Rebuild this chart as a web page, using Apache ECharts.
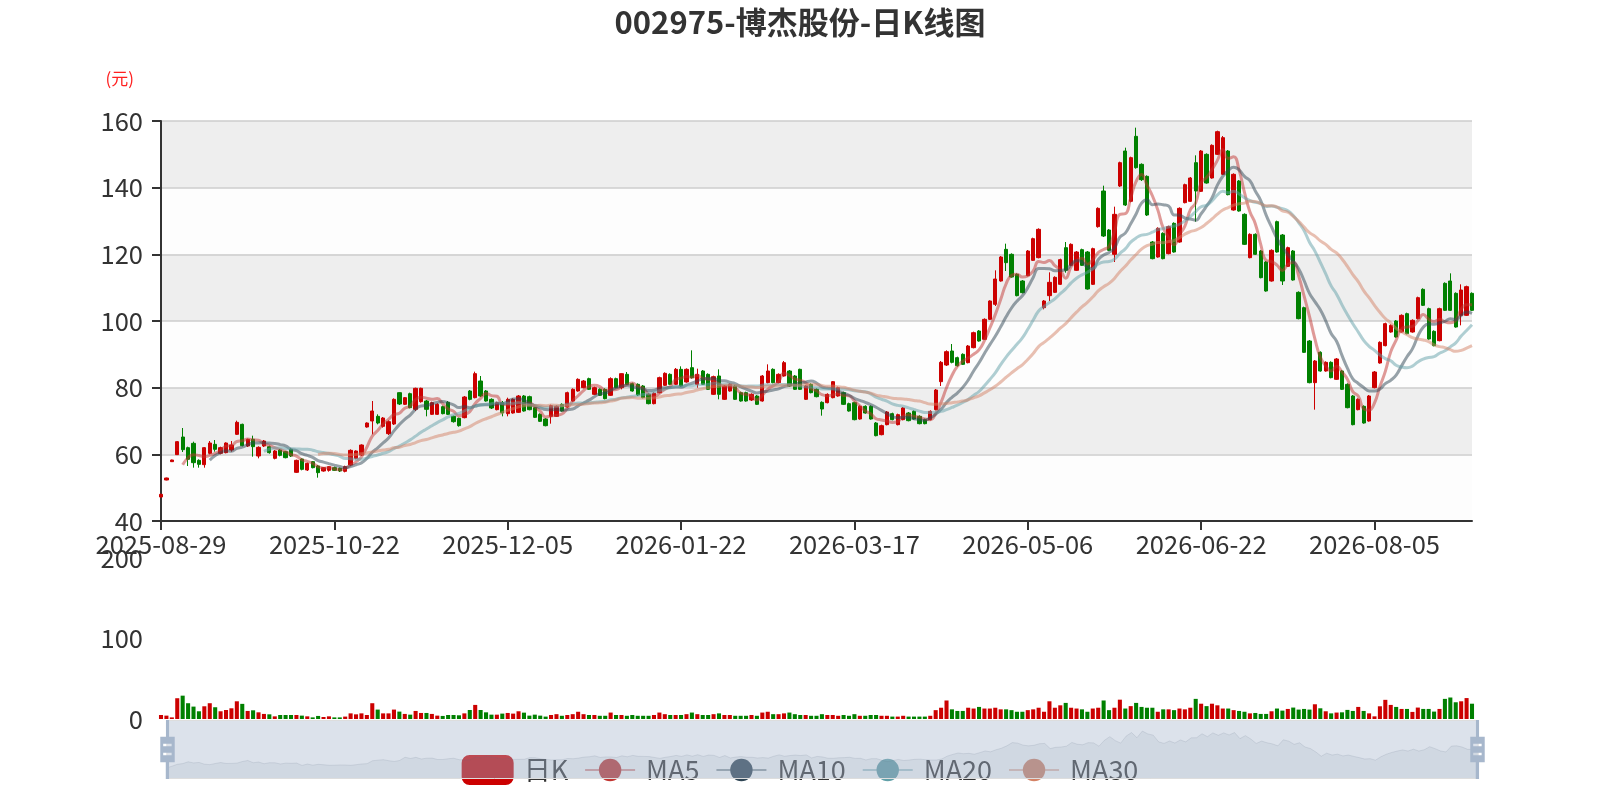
<!DOCTYPE html>
<html>
<head>
<meta charset="utf-8">
<title>002975-博杰股份-日K线图</title>
<script src="https://cdn.jsdelivr.net/npm/echarts@6/dist/echarts.min.js"></script>
<style>
  html, body { margin: 0; padding: 0; background: #fff; }
  #main { width: 1600px; height: 800px; }
</style>
</head>
<body>
<div id="main"></div>
<script>
// 交易日
var dates = [
  '2025-08-29',
  '2025-09-01','2025-09-02','2025-09-03','2025-09-04','2025-09-05','2025-09-08','2025-09-09','2025-09-10','2025-09-11','2025-09-12',
  '2025-09-15','2025-09-16','2025-09-17','2025-09-18','2025-09-19','2025-09-22','2025-09-23','2025-09-24','2025-09-25','2025-09-26',
  '2025-09-29','2025-09-30',
  '2025-10-09','2025-10-10','2025-10-13','2025-10-14','2025-10-15','2025-10-16','2025-10-17','2025-10-20','2025-10-21','2025-10-22',
  '2025-10-23','2025-10-24','2025-10-27','2025-10-28','2025-10-29','2025-10-30','2025-10-31',
  '2025-11-03','2025-11-04','2025-11-05','2025-11-06','2025-11-07','2025-11-10','2025-11-11','2025-11-12','2025-11-13','2025-11-14',
  '2025-11-17','2025-11-18','2025-11-19','2025-11-20','2025-11-21','2025-11-24','2025-11-25','2025-11-26','2025-11-27','2025-11-28',
  '2025-12-01','2025-12-02','2025-12-03','2025-12-04','2025-12-05','2025-12-08','2025-12-09','2025-12-10','2025-12-11','2025-12-12',
  '2025-12-15','2025-12-16','2025-12-17','2025-12-18','2025-12-19','2025-12-22','2025-12-23','2025-12-24','2025-12-25','2025-12-26',
  '2025-12-29','2025-12-30','2025-12-31',
  '2026-01-05','2026-01-06','2026-01-07','2026-01-08','2026-01-09','2026-01-12','2026-01-13','2026-01-14','2026-01-15','2026-01-16',
  '2026-01-19','2026-01-20','2026-01-21','2026-01-22','2026-01-23','2026-01-26','2026-01-27','2026-01-28','2026-01-29','2026-01-30',
  '2026-02-02','2026-02-03','2026-02-04','2026-02-05','2026-02-06','2026-02-09','2026-02-10','2026-02-11','2026-02-12','2026-02-13',
  '2026-02-24','2026-02-25','2026-02-26','2026-02-27',
  '2026-03-02','2026-03-03','2026-03-04','2026-03-05','2026-03-06','2026-03-09','2026-03-10','2026-03-11','2026-03-12','2026-03-13',
  '2026-03-16','2026-03-17','2026-03-18','2026-03-19','2026-03-20','2026-03-23','2026-03-24','2026-03-25','2026-03-26','2026-03-27',
  '2026-03-30','2026-03-31',
  '2026-04-01','2026-04-02','2026-04-03','2026-04-07','2026-04-08','2026-04-09','2026-04-10','2026-04-13','2026-04-14','2026-04-15',
  '2026-04-16','2026-04-17','2026-04-20','2026-04-21','2026-04-22','2026-04-23','2026-04-24','2026-04-27','2026-04-28','2026-04-29',
  '2026-04-30',
  '2026-05-06','2026-05-07','2026-05-08','2026-05-11','2026-05-12','2026-05-13','2026-05-14','2026-05-15','2026-05-18','2026-05-19',
  '2026-05-20','2026-05-21','2026-05-22','2026-05-25','2026-05-26','2026-05-27','2026-05-28','2026-05-29',
  '2026-06-01','2026-06-02','2026-06-03','2026-06-04','2026-06-05','2026-06-08','2026-06-09','2026-06-10','2026-06-11','2026-06-12',
  '2026-06-15','2026-06-16','2026-06-17','2026-06-18','2026-06-22','2026-06-23','2026-06-24','2026-06-25','2026-06-26','2026-06-29',
  '2026-06-30',
  '2026-07-01','2026-07-02','2026-07-03','2026-07-06','2026-07-07','2026-07-08','2026-07-09','2026-07-10','2026-07-13','2026-07-14',
  '2026-07-15','2026-07-16','2026-07-17','2026-07-20','2026-07-21','2026-07-22','2026-07-23','2026-07-24','2026-07-27','2026-07-28',
  '2026-07-29','2026-07-30','2026-07-31',
  '2026-08-03','2026-08-04','2026-08-05','2026-08-06','2026-08-07','2026-08-10','2026-08-11','2026-08-12','2026-08-13','2026-08-14',
  '2026-08-17','2026-08-18','2026-08-19','2026-08-20','2026-08-21','2026-08-24','2026-08-25','2026-08-26','2026-08-27','2026-08-28',
  '2026-08-31'
];

// 开盘
var opens = [
  47.2, 52.3, 57.8, 59.9, 65.2, 62.0, 63.3, 58.2, 56.9, 60.3,
  63.0, 60.3, 60.5, 61.3, 66.0, 69.0, 62.5, 64.5, 59.5, 62.5,
  62.3, 58.8, 61.3, 60.8, 61.5, 54.6, 58.6, 55.3, 57.8, 56.5,
  55.0, 55.2, 56.0, 55.8, 54.9, 56.8, 58.8, 59.8, 68.2, 70.0,
  71.4, 68.4, 66.2, 69.1, 78.5, 75.0, 78.2, 73.5, 75.8, 76.0,
  72.0, 72.0, 74.3, 75.6, 71.4, 70.8, 71.0, 79.0, 77.0, 82.0,
  79.0, 76.5, 73.4, 75.5, 72.2, 72.4, 72.6, 77.5, 77.3, 74.0,
  72.0, 70.6, 71.4, 71.4, 75.0, 74.2, 76.0, 79.0, 80.0, 82.7,
  78.0, 79.5, 79.5, 77.7, 82.7, 80.0, 84.0, 81.2, 81.0, 80.5,
  78.0, 75.2, 78.5, 80.7, 84.0, 81.0, 85.5, 81.7, 86.0, 81.0,
  85.0, 84.0, 78.0, 83.5, 76.5, 79.0, 80.5, 78.5, 78.5, 76.3,
  77.5, 76.0, 81.5, 85.5, 81.5, 83.5, 85.0, 83.5, 85.5, 76.5,
  81.0, 79.5, 75.6, 75.5, 77.0, 77.5, 78.5, 75.2, 75.5, 70.6,
  74.4, 74.4, 69.4, 65.9, 68.9, 72.2, 68.9, 70.4, 72.4, 72.9,
  71.4, 70.4, 70.4, 73.4, 81.8, 86.8, 91.0, 89.0, 90.0, 87.5,
  92.0, 97.0, 94.5, 100.5, 105.0, 112.0, 121.5, 120.0, 114.0, 112.0,
  113.6, 118.2, 119.0, 104.0, 107.6, 108.6, 111.0, 122.0, 116.7, 115.2,
  121.4, 120.7, 111.0, 128.3, 139.0, 127.3, 120.0, 140.5, 151.0, 135.9,
  155.4, 147.0, 143.4, 123.7, 119.2, 126.3, 120.2, 129.3, 123.7, 135.5,
  135.9, 147.5, 138.9, 150.0, 142.9, 150.0, 144.0, 151.0, 133.3, 142.0,
  132.0, 119.0, 126.0, 121.0, 117.7, 112.0, 129.8, 125.8, 116.4, 121.0,
  108.6, 104.0, 94.0, 81.5, 90.6, 85.0, 87.6, 82.5, 85.0, 81.0,
  77.5, 73.4, 74.4, 70.0, 80.0, 87.4, 92.6, 96.7, 100.0, 96.7,
  102.2, 96.7, 100.7, 109.5, 103.7, 96.9, 94.1, 111.3, 112.0, 108.3,
  101.7, 101.7, 108.3
];

// 收盘
var closes = [
  48.0, 52.9, 58.3, 63.8, 61.4, 58.5, 57.5, 57.0, 62.0, 63.4,
  61.5, 62.0, 63.4, 62.8, 69.6, 62.6, 64.5, 62.3, 62.1, 64.0,
  60.5, 61.0, 59.7, 59.0, 59.5, 58.2, 55.5, 57.3, 56.0, 54.5,
  56.0, 56.3, 55.2, 55.0, 56.3, 61.2, 61.0, 62.8, 69.4, 73.0,
  69.4, 70.9, 69.8, 76.5, 75.1, 77.0, 74.0, 79.8, 79.8, 73.5,
  75.5, 75.0, 72.2, 72.0, 69.8, 68.6, 77.2, 76.5, 84.2, 77.5,
  76.0, 73.9, 75.5, 72.4, 76.5, 76.5, 77.5, 73.0, 73.4, 71.1,
  69.9, 68.6, 74.6, 74.4, 73.0, 78.5, 79.5, 82.5, 82.0, 79.5,
  80.0, 77.7, 76.7, 82.7, 80.0, 84.2, 81.0, 79.0, 77.8, 77.0,
  75.2, 78.3, 83.0, 84.3, 81.0, 85.5, 80.5, 85.5, 83.0, 84.0,
  81.0, 79.5, 83.3, 78.0, 80.5, 81.0, 76.5, 76.0, 76.0, 78.0,
  75.0, 83.5, 85.0, 81.5, 84.0, 87.5, 80.5, 79.5, 79.5, 80.5,
  78.5, 77.3, 73.6, 78.0, 81.8, 80.0, 75.0, 73.0, 70.4, 74.4,
  72.4, 70.6, 65.6, 68.6, 72.7, 70.4, 71.9, 73.9, 70.1, 70.6,
  69.2, 69.2, 72.9, 79.3, 87.6, 90.8, 87.6, 86.6, 87.0, 92.5,
  96.5, 94.0, 100.5, 106.0, 112.6, 119.2, 117.5, 113.2, 107.6, 108.5,
  121.0, 124.7, 127.5, 106.0, 111.6, 113.1, 118.4, 115.2, 123.0, 120.7,
  116.7, 109.6, 121.7, 133.8, 125.5, 121.2, 132.0, 147.5, 134.8, 149.0,
  146.0, 142.4, 131.8, 118.7, 127.8, 118.7, 128.3, 120.7, 133.8, 140.9,
  142.9, 139.0, 151.0, 141.4, 152.7, 156.8, 155.0, 137.9, 144.0, 133.0,
  123.0, 126.0, 120.0, 113.0, 109.0, 121.2, 120.7, 112.0, 122.0, 112.3,
  100.7, 90.6, 81.5, 88.0, 85.0, 87.6, 83.0, 88.6, 79.5, 74.0,
  68.9, 76.5, 69.4, 77.5, 84.7, 93.6, 99.2, 98.7, 95.2, 101.7,
  96.2, 100.2, 107.0, 104.7, 94.6, 92.6, 103.7, 103.2, 103.2, 98.2,
  109.3, 110.3, 103.2
];

// 最低
var lows = [
  47.0, 52.2, 57.7, 59.8, 60.7, 56.5, 56.0, 56.0, 56.0, 60.0,
  60.8, 60.0, 60.3, 60.8, 65.8, 62.4, 62.2, 59.3, 58.8, 62.2,
  60.2, 58.5, 59.4, 58.8, 59.2, 54.4, 55.2, 55.0, 55.8, 53.0,
  54.8, 54.8, 55.0, 54.7, 54.6, 56.5, 58.5, 59.5, 68.0, 66.0,
  69.0, 68.0, 65.8, 68.8, 74.8, 74.8, 73.8, 73.0, 75.5, 71.4,
  71.8, 71.8, 72.0, 71.8, 69.5, 68.3, 70.8, 76.2, 76.8, 77.2,
  75.8, 73.6, 73.2, 71.4, 71.4, 72.2, 72.4, 72.8, 73.2, 70.9,
  69.7, 68.4, 69.2, 71.2, 72.8, 74.0, 75.8, 78.8, 79.8, 79.3,
  77.8, 77.5, 76.5, 77.5, 79.8, 79.5, 80.8, 78.8, 77.5, 76.8,
  75.0, 75.0, 78.3, 80.5, 80.8, 80.8, 80.3, 81.5, 82.7, 80.0,
  80.8, 79.3, 77.8, 76.5, 76.3, 78.8, 76.3, 75.8, 75.8, 76.0,
  74.8, 75.8, 81.3, 81.3, 81.3, 83.3, 80.3, 79.3, 79.3, 76.3,
  78.3, 77.1, 71.6, 75.3, 76.8, 77.3, 74.8, 72.8, 70.2, 70.4,
  72.2, 70.4, 65.4, 65.7, 68.7, 70.2, 68.7, 70.2, 69.9, 70.4,
  69.0, 69.0, 70.2, 73.2, 80.5, 86.5, 87.3, 86.3, 86.8, 87.3,
  91.8, 93.8, 94.3, 100.3, 104.5, 111.8, 115.0, 113.0, 107.4, 108.3,
  113.4, 118.0, 118.8, 103.5, 106.0, 108.4, 110.8, 114.5, 116.5, 115.0,
  116.5, 109.4, 110.8, 128.0, 125.2, 121.0, 117.7, 140.2, 134.5, 135.6,
  145.7, 142.0, 131.5, 118.5, 119.0, 118.5, 120.0, 120.5, 123.5, 135.3,
  135.7, 129.8, 138.7, 141.2, 142.7, 149.8, 143.8, 137.7, 133.1, 132.8,
  122.8, 118.8, 119.8, 112.8, 108.8, 111.8, 120.5, 110.8, 116.2, 112.1,
  100.5, 90.4, 81.3, 73.4, 84.8, 84.8, 82.8, 82.3, 79.3, 73.8,
  68.7, 73.2, 69.2, 69.8, 79.8, 87.2, 92.4, 96.5, 95.0, 96.5,
  96.0, 96.5, 100.5, 104.5, 94.4, 92.4, 93.9, 103.0, 103.0, 98.0,
  98.7, 101.5, 103.0
];

// 最高
var highs = [
  48.2, 53.0, 58.4, 64.0, 67.9, 62.3, 63.8, 58.5, 62.2, 64.0,
  64.3, 62.3, 63.6, 64.0, 70.1, 69.2, 64.7, 65.6, 62.4, 64.3,
  62.6, 61.3, 61.6, 61.0, 61.8, 58.4, 58.8, 57.5, 58.0, 56.8,
  56.2, 56.5, 56.3, 56.0, 56.6, 61.5, 61.2, 63.0, 69.6, 76.0,
  72.0, 71.2, 70.2, 76.8, 78.6, 77.2, 78.5, 80.0, 80.0, 76.3,
  75.8, 75.3, 74.6, 76.0, 71.6, 71.0, 77.5, 79.3, 84.8, 83.5,
  79.3, 76.8, 75.8, 76.0, 77.0, 76.8, 77.8, 77.8, 77.6, 74.3,
  72.3, 70.9, 74.9, 74.7, 75.3, 78.8, 79.8, 82.8, 82.3, 83.0,
  80.3, 79.8, 79.8, 83.1, 83.0, 84.3, 84.7, 81.5, 81.3, 80.8,
  78.3, 78.6, 83.3, 84.6, 84.3, 85.9, 86.4, 85.8, 91.2, 85.7,
  85.3, 84.3, 83.6, 85.5, 80.8, 81.3, 80.8, 78.8, 78.8, 78.3,
  77.8, 83.8, 87.0, 85.8, 84.3, 88.0, 85.3, 83.8, 85.7, 80.8,
  81.3, 79.8, 75.9, 78.3, 82.0, 80.3, 78.8, 75.5, 75.8, 74.7,
  74.7, 74.7, 69.7, 68.9, 73.0, 72.5, 72.2, 74.2, 72.7, 73.2,
  71.7, 70.7, 73.2, 79.6, 88.0, 91.2, 93.1, 89.3, 90.3, 92.8,
  96.8, 97.3, 100.8, 106.2, 115.2, 119.5, 123.2, 120.3, 114.3, 112.3,
  121.3, 125.0, 127.8, 106.3, 114.6, 113.4, 118.7, 123.7, 123.3, 121.0,
  121.7, 121.0, 122.0, 134.1, 140.6, 127.6, 134.3, 147.8, 152.0, 149.3,
  158.0, 147.3, 143.7, 124.0, 128.1, 126.6, 128.6, 129.6, 134.1, 141.2,
  143.2, 149.7, 151.3, 150.3, 153.0, 157.1, 155.5, 151.3, 144.3, 142.3,
  132.3, 126.3, 126.3, 121.3, 118.0, 121.5, 130.1, 126.1, 122.3, 121.3,
  108.9, 104.3, 94.3, 88.3, 90.9, 87.9, 87.9, 88.9, 85.3, 81.3,
  77.8, 76.8, 74.7, 77.8, 85.0, 93.9, 99.5, 99.0, 100.3, 102.0,
  102.5, 100.5, 107.3, 109.8, 104.0, 97.2, 104.0, 111.6, 114.3, 108.6,
  111.0, 110.6, 108.6
];

// 成交量
var volumes = [
  5, 4.2, 2, 25.8, 29, 19.6, 15.4, 9.6, 15.8, 19.6,
  14.6, 9.6, 11.2, 13.3, 22, 18.8, 10, 10.8, 8.3, 6.3,
  5.8, 3.3, 5, 5, 5, 5, 4.2, 3.3, 2, 3.8,
  2.5, 3.3, 2, 2, 3, 7, 5.8, 7, 5, 19.6,
  11.7, 7, 7, 11.7, 9.2, 6.3, 5.4, 10, 7.5, 7.5,
  6.3, 4.2, 3.8, 5, 5, 4.6, 7, 11.2, 17.5, 11.2,
  8.3, 5.4, 5.4, 6.7, 7.5, 6.7, 9.6, 7.9, 4.2, 5.4,
  4.2, 3, 5, 6, 4, 5, 6, 9, 6, 5,
  5, 4, 4, 8, 5, 5, 4, 5, 4, 4,
  4, 5, 8, 6, 5, 5, 5, 6, 8, 6,
  5, 5, 6, 7, 5, 5, 4, 4, 4, 5,
  4, 8, 9, 6, 6, 7, 8, 6, 5, 5,
  4, 4, 6, 5, 5, 4, 5, 4, 6, 4,
  4, 5, 5, 4, 4, 3, 3, 4, 3, 3,
  3, 3, 4, 11, 14, 23, 12, 10, 10, 14,
  13, 15, 13, 13, 14, 12, 12, 11, 9, 9,
  11, 12, 14, 9, 22, 14, 17, 20, 14, 13,
  12, 9, 13, 14, 23, 11, 14, 24, 13, 16,
  20, 15, 14, 14, 9, 12, 12, 11, 13, 12,
  14, 25, 19, 16, 19, 17, 13, 13, 11, 10,
  9, 7, 7.5, 6.3, 6.3, 9.6, 13, 10.4, 12.5, 14.2,
  11.7, 12.5, 11.7, 18.3, 13.3, 9.6, 7, 8, 8.3, 11.3,
  10, 15, 10, 7, 3.3, 15.8, 23.8, 17.5, 15, 12.5,
  12.5, 8.8, 14.2, 12.5, 12.5, 9.2, 12.5, 25, 26.7, 20.8,
  22, 26, 19
];

var upColor = '#cc0000';
var downColor = '#008000';
var maColors = ['#c23531', '#2f4554', '#61a0a8', '#d48265'];
var font = 'Noto Sans CJK SC';

// K线数据 [open, close, lowest, highest]
var kData = [];
var volData = [];
for (var i = 0; i < dates.length; i++) {
  kData.push([opens[i], closes[i], lows[i], highs[i]]);
  volData.push({
    value: volumes[i],
    itemStyle: { color: closes[i] >= opens[i] ? upColor : downColor }
  });
}

function calculateMA(dayCount) {
  var result = [];
  for (var i = 0; i < closes.length; i++) {
    if (i < dayCount - 1) {
      result.push('-');
      continue;
    }
    var sum = 0;
    for (var j = 0; j < dayCount; j++) {
      sum += closes[i - j];
    }
    result.push(+(sum / dayCount).toFixed(2));
  }
  return result;
}

function maSeries(name, days, color) {
  return {
    name: name,
    type: 'line',
    data: calculateMA(days),
    smooth: true,
    symbol: 'circle',
    showSymbol: false,
    itemStyle: { color: color },
    lineStyle: { width: 3, opacity: 0.5, color: color }
  };
}

var chart = echarts.init(document.getElementById('main'));

var option = {
  animation: false,
  backgroundColor: '#fff',
  textStyle: { fontFamily: font },
  title: {
    text: '002975-博杰股份-日K线图',
    left: 'center',
    top: 2,
    textStyle: { fontFamily: font, fontSize: 31, fontWeight: 'bold', color: '#333' }
  },
  legend: {
    data: ['日K', 'MA5', 'MA10', 'MA20', 'MA30'],
    left: 'center',
    bottom: 10,
    z: 2,
    itemWidth: 50,
    itemHeight: 28,
    itemGap: 16,
    textStyle: { fontFamily: font, fontSize: 27, color: '#333', padding: [0, 0, 0, 6] }
  },
  grid: [
    { left: 161, right: 128, top: 121, height: 400 },
    { left: 161, right: 128, top: 558, height: 161 }
  ],
  xAxis: [
    {
      type: 'category',
      data: dates,
      boundaryGap: false,
      axisLine: { lineStyle: { color: '#333', width: 2 } },
      axisTick: { interval: 31, length: 9, lineStyle: { color: '#333', width: 2 } },
      axisLabel: { interval: 31, fontFamily: font, fontSize: 25.5, color: '#333', margin: 11 },
      splitLine: { show: false }
    },
    {
      type: 'category',
      gridIndex: 1,
      data: dates,
      boundaryGap: false,
      axisLine: { show: false },
      axisTick: { show: false },
      axisLabel: { show: false },
      splitLine: { show: false }
    }
  ],
  yAxis: [
    {
      type: 'value',
      min: 40,
      max: 160,
      interval: 20,
      name: '(元)',
      nameGap: 34,
      nameTextStyle: { color: '#ff2020', fontFamily: font, fontSize: 17, align: 'right', padding: [0, 27, 0, 0] },
      axisLine: { show: true, lineStyle: { color: '#333', width: 2 } },
      axisTick: { show: true, length: 9, lineStyle: { color: '#333', width: 2 } },
      axisLabel: { fontFamily: font, fontSize: 25.5, color: '#333', margin: 18 },
      splitLine: { show: true, lineStyle: { color: '#ccc', width: 1.5 } },
      splitArea: { show: true, areaStyle: { color: ['rgba(250,250,250,0.3)', 'rgba(200,200,200,0.3)'] } }
    },
    {
      type: 'value',
      gridIndex: 1,
      min: 0,
      max: 200,
      interval: 100,
      axisLine: { show: false },
      axisTick: { show: false },
      axisLabel: { fontFamily: font, fontSize: 25.5, color: '#333', margin: 18 },
      splitLine: { show: false }
    }
  ],
  dataZoom: [
    {
      type: 'slider',
      xAxisIndex: [0, 1],
      start: 0,
      end: 100,
      left: 164,
      right: 124,
      top: 720,
      height: 59,
      z: 4,
      showDetail: false,
      brushSelect: false,
      moveHandleSize: 0,
      backgroundColor: 'rgba(47,69,84,0)',
      borderColor: '#ddd',
      fillerColor: 'rgba(167,183,204,0.4)',
      handleIcon: 'path://M8.2,13.6V3.9H6.3v9.7H3.1v14.9h3.3v9.7h1.8v-9.7h3.3V13.6H8.2z M9.7,24.4H4.8v-1.4h4.9V24.4z M9.7,19.1H4.8v-1.4h4.9V19.1z',
      handleSize: '100%',
      handleStyle: { color: '#a7b7cc', borderColor: '#a7b7cc', borderWidth: 0 },
      dataBackground: {
        lineStyle: { color: '#2f4554', width: 0.5, opacity: 0.3 },
        areaStyle: { color: '#2f4554', opacity: 0.09 }
      },
      selectedDataBackground: {
        lineStyle: { color: '#2f4554', width: 0.5, opacity: 0.3 },
        areaStyle: { color: '#2f4554', opacity: 0.09 }
      },
      emphasis: { handleStyle: { color: '#a7b7cc', borderColor: '#a7b7cc' } }
    }
  ],
  series: [
    {
      name: '日K',
      type: 'candlestick',
      data: kData,
      barWidth: '70%',
      itemStyle: {
        color: upColor,
        color0: downColor,
        borderColor: upColor,
        borderColor0: downColor,
        borderWidth: 1
      }
    },
    maSeries('MA5', 5, maColors[0]),
    maSeries('MA10', 10, maColors[1]),
    maSeries('MA20', 20, maColors[2]),
    maSeries('MA30', 30, maColors[3]),
    {
      name: '成交量',
      type: 'bar',
      xAxisIndex: 1,
      yAxisIndex: 1,
      barWidth: '75%',
      data: volData
    }
  ]
};

chart.setOption(option);
</script>
</body>
</html>
